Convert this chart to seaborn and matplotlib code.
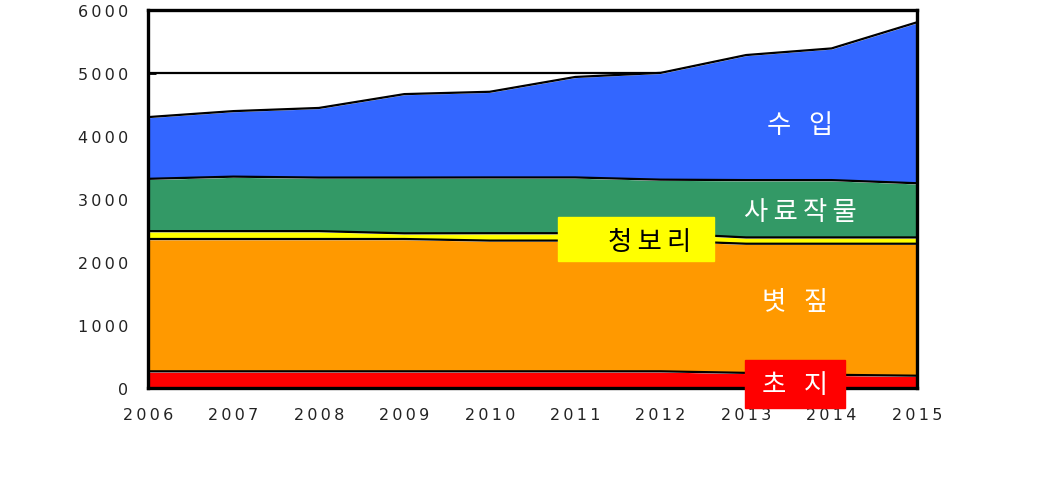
import numpy as np
import pandas as pd
import matplotlib
matplotlib.use("Agg")
import matplotlib.pyplot as plt
import seaborn as sns

years = [2006, 2007, 2008, 2009, 2010, 2011, 2012, 2013, 2014, 2015]
choji = [265, 265, 265, 265, 265, 265, 265, 240, 210, 195]          # 초지
byeotjip = [2100, 2100, 2100, 2100, 2075, 2075, 2075, 2050, 2080, 2095]  # 볏짚
cheongbori = [125, 125, 125, 90, 117, 117, 117, 100, 100, 100]     # 청보리
saryo = [830, 865, 850, 885, 885, 885, 850, 910, 910, 860]         # 사료작물
suip = [980, 1040, 1105, 1325, 1360, 1595, 1695, 1985, 2090, 2555]  # 수입

series_names = ["초 지", "볏 짚", "청보리", "사료작물", "수 입"]
series_colors = ["#FF0000", "#FF9900", "#FFFF00", "#339966", "#3366FF"]
y_ticks = [0, 1000, 2000, 3000, 4000, 5000, 6000]

sns.set_theme(style="white")
plt.rcParams['font.family'] = ['Noto Sans CJK KR', 'DejaVu Sans']

fig = plt.figure(figsize=(10.38, 4.85), dpi=100)
ax = fig.add_axes([148/1038, 1-389/485, (917-148)/1038, (389-11)/485])

layers = [choji, byeotjip, cheongbori, saryo, suip]
ax.set_axisbelow(True)
ax.yaxis.grid(True, color="black", linewidth=1.6)
ax.stackplot(years, *layers, colors=series_colors, zorder=2)

cum = np.cumsum(np.array(layers), axis=0)
df = pd.DataFrame({"year": np.tile(years, len(layers)),
                   "value": cum.ravel(),
                   "layer": np.repeat(series_names, len(years))})
sns.lineplot(data=df, x="year", y="value", units="layer", estimator=None,
             color="black", linewidth=1.6, ax=ax, zorder=3, legend=False)

ax.set_xlim(2006, 2015)
ax.set_ylim(0, 6000)
ax.set_xticks(years)
ax.set_yticks(y_ticks)
sp = "\u2009"
ax.set_xticklabels([sp.join(str(y)) for y in years])
ax.set_yticklabels([sp.join(str(v)) for v in y_ticks])
ax.set_xlabel("")
ax.set_ylabel("")
ax.tick_params(axis="both", direction="in", length=6, width=2, color="black",
               labelsize=11.5, labelcolor="#222222", left=True, bottom=True)
ax.tick_params(axis="y", pad=14)
ax.tick_params(axis="x", pad=14)
for s in ax.spines.values():
    s.set_color("black")
    s.set_linewidth(2.4)
    s.set_zorder(5)

for lab in ax.get_xticklabels() + ax.get_yticklabels():
    lab.set_family(['DejaVu Sans'])

def fx(px):
    return 2006 + (px - 148) / (917 - 148) * 9

def fy(py):
    return (389 - py) / 63.0 * 1000

fs = 19
ax.text(fx(800), fy(126), "수   입", color="white", fontsize=fs, ha="center", va="center", zorder=6)
ax.text(fx(800), fy(213), sp.join("사료작물"), color="white", fontsize=fs, ha="center", va="center", zorder=6)
ax.text(fx(795), fy(303), "볏   짚", color="white", fontsize=fs, ha="center", va="center", zorder=6)

fig.patches.append(plt.Rectangle((558/1038, 1-262/485), (714-558)/1038, (262-218)/485,
                                 transform=fig.transFigure, color="#FFFF00", zorder=6))
fig.text(650/1038, 1-243/485, sp.join("청보리"), color="black", fontsize=fs, ha="center", va="center", zorder=7)
fig.patches.append(plt.Rectangle((745/1038, 1-409/485), (845-745)/1038, (409-361)/485,
                                 transform=fig.transFigure, color="#FF0000", zorder=6))
fig.text(795/1038, 1-386/485, "초   지", color="white", fontsize=fs, ha="center", va="center", zorder=7)

fig.savefig("out.png", dpi=100)
